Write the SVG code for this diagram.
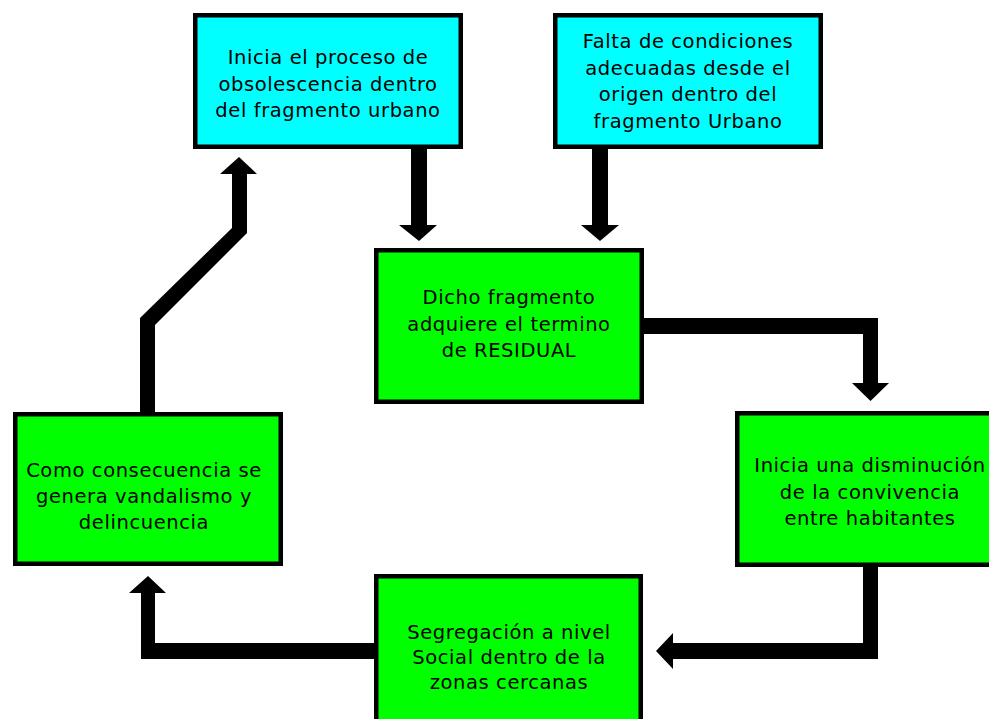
<svg xmlns="http://www.w3.org/2000/svg" width="989" height="719" viewBox="0 0 989 719">
<style>
.box{stroke:#000;stroke-width:4.5}
.cyan{fill:#00FFFF}
.green{fill:#00FF00}
.t{font-family:"DejaVu Sans",Verdana,sans-serif;font-size:19.5px;letter-spacing:0.6px;fill:#000;text-anchor:middle}
.arrow{fill:#000}
</style>
<rect width="989" height="719" fill="#fff"/>
<g id="connectors">
<polygon class="arrow" points="411,149 427,149 427,225 437,225 419,241 399,225 411,225"/>
<polygon class="arrow" points="592,149 608,149 608,225 619,225 600,241 581,225 592,225"/>
<polygon class="arrow" points="644,318 878,318 878,383 889,383 870.5,401 852,383 863,383 863,334 644,334"/>
<polygon class="arrow" points="863,567 878,567 878,659 673,659 673,669 656,651 673,633 673,643 863,643"/>
<polygon class="arrow" points="374,643 374,659 141,659 141,593 129,593 148,576 166,593 155,593 155,643"/>
<polygon class="arrow" points="140,412 155,412 155,325 247,233 247,174 257,174 239,157 220,174 232,174 232,228 140,318"/>
</g>
<g id="node-obsolescencia">
<rect class="box cyan" x="195.25" y="15.25" width="265.5" height="131.5"/>
<text class="t" x="328" y="64">Inicia el proceso de</text>
<text class="t" x="328" y="91">obsolescencia dentro</text>
<text class="t" x="328" y="117">del fragmento urbano</text>
</g>
<g id="node-falta">
<rect class="box cyan" x="555.25" y="15.25" width="265.5" height="131.5"/>
<text class="t" x="688" y="48">Falta de condiciones</text>
<text class="t" x="688" y="75">adecuadas desde el</text>
<text class="t" x="688" y="101">origen dentro del</text>
<text class="t" x="688" y="128">fragmento Urbano</text>
</g>
<g id="node-residual">
<rect class="box green" x="376.25" y="250.25" width="265.5" height="151.5"/>
<text class="t" x="509" y="304">Dicho fragmento</text>
<text class="t" x="509" y="331">adquiere el termino</text>
<text class="t" x="509" y="357">de RESIDUAL</text>
</g>
<g id="node-convivencia">
<rect class="box green" x="737.25" y="413.25" width="265.5" height="151.5"/>
<text class="t" x="870" y="472">Inicia una disminución</text>
<text class="t" x="870" y="499">de la convivencia</text>
<text class="t" x="870" y="525">entre habitantes</text>
</g>
<g id="node-vandalismo">
<rect class="box green" x="15.25" y="414.25" width="265.5" height="149.5"/>
<text class="t" x="144" y="477">Como consecuencia se</text>
<text class="t" x="144" y="503">genera vandalismo y</text>
<text class="t" x="144" y="529">delincuencia</text>
</g>
<g id="node-segregacion">
<rect class="box green" x="376.25" y="576.25" width="264.5" height="151.5"/>
<text class="t" x="509" y="639">Segregación a nivel</text>
<text class="t" x="509" y="664">Social dentro de la</text>
<text class="t" x="509" y="689">zonas cercanas</text>
</g>
</svg>
